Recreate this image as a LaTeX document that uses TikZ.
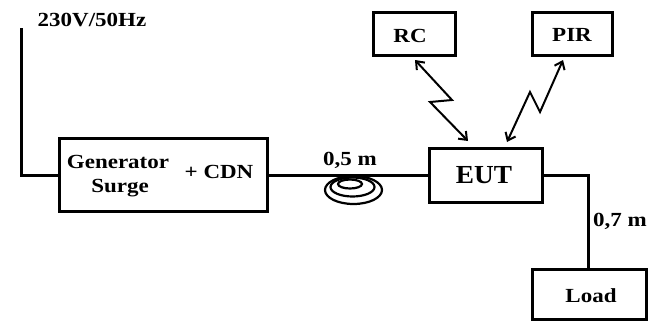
\documentclass[tikz,border=0pt]{standalone}
\usepackage{fontspec}
\setmainfont{Liberation Serif}
\usetikzlibrary{arrows.meta}
\newcommand{\stx}[1]{\scalebox{1.15}[1]{#1}}
\tikzset{
  box/.style={draw, line width=3pt, rectangle, inner sep=0pt},
  wire/.style={line width=3pt},
  lbl/.style={font=\fontsize{20}{22}\selectfont\bfseries, inner sep=0pt},
  radio/.style={line width=2pt, {Straight Barb[length=7pt,width=11pt,line width=2pt]}-{Straight Barb[length=7pt,width=11pt,line width=2pt]}},
  coil/.style={line width=2.2pt}
}
\begin{document}
\begin{tikzpicture}[x=1pt,y=-1pt]
\useasboundingbox (0,0) rectangle (659,322);
% boxes
\node[box, minimum width=208pt, minimum height=73pt] (gen) at (163,175) {};
\node[box, minimum width=113pt, minimum height=54pt] (eut) at (485.5,175) {};
\node[box, minimum width=82pt, minimum height=43pt] (rc) at (414,33.5) {};
\node[box, minimum width=80pt, minimum height=43pt] (pir) at (572,33.5) {};
\node[box, minimum width=114pt, minimum height=50pt] (load) at (589,294.5) {};
% texts
\node[lbl, anchor=base] (tgen) at (118,168) {\stx{Generator}};
\node[lbl, anchor=base] (tsurge) at (120,192) {\stx{Surge}};
\node[lbl, anchor=base] (tcdn) at (219,178) {\stx{+ CDN}};
\node[lbl] (tpow) at (92,20) {\stx{230V/50Hz}};
\node[lbl] (t05) at (350,160) {\stx{0,5 m}};
\node[lbl] (t07) at (620,221) {\stx{0,7 m}};
\node[lbl] (trc) at (410,36) {\stx{RC}};
\node[lbl] (tpir) at (572,35) {\stx{PIR}};
\node[lbl] (tload) at (591,296) {\stx{Load}};
\node[lbl, font=\fontsize{26}{28}\selectfont\bfseries] (teut) at (484,175) {\scalebox{1.05}[1]{EUT}};
% wires
\coordinate (pw) at (21,28);
\draw[wire] (pw) |- (gen.west);
\draw[wire] (gen.east) -- (eut.west);
\coordinate (bend) at (588,175);
\draw[wire] (eut.east) -- (bend) -- (bend |- load.north);
% coil
\draw[coil] (353.5,190) ellipse [x radius=28.5pt, y radius=14pt];
\draw[coil] (352.5,187) ellipse [x radius=22pt, y radius=9.5pt];
\draw[coil] (350,184) ellipse [x radius=12pt, y radius=4.5pt];
% radio links
\coordinate (rcA) at (415,60);
\coordinate (rcZ1) at (452,100);
\coordinate (rcZ2) at (430,102);
\coordinate (rcB) at (468,141);
\draw[radio] (rcA) -- (rcZ1) -- (rcZ2) -- (rcB);
\coordinate (pirA) at (563,60);
\coordinate (pirZ1) at (540,112);
\coordinate (pirZ2) at (530,92);
\coordinate (pirB) at (507,142);
\draw[radio] (pirA) -- (pirZ1) -- (pirZ2) -- (pirB);
\end{tikzpicture}
\end{document}
